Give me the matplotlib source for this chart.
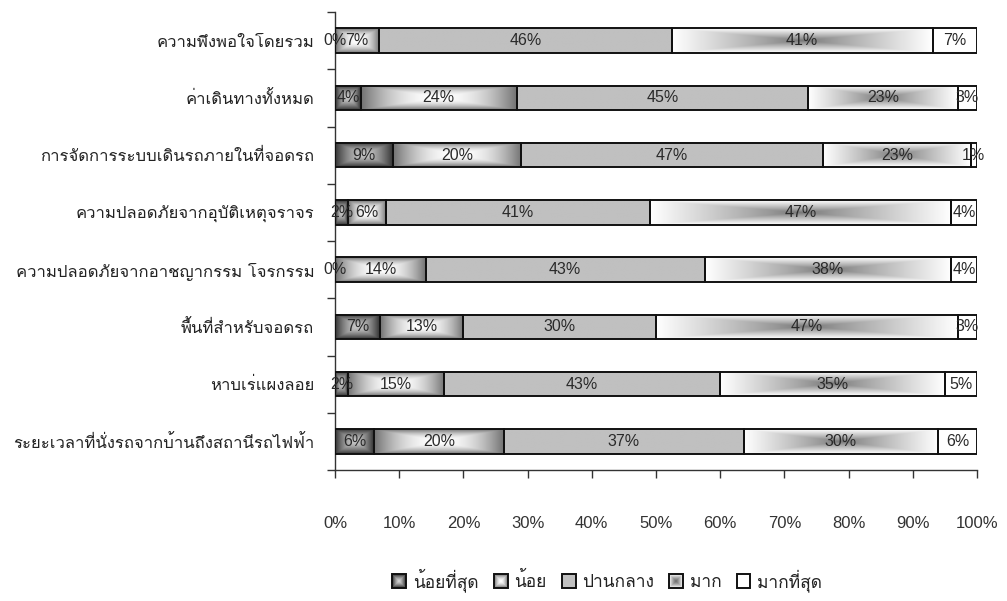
import numpy as np
import matplotlib
matplotlib.use("Agg")
import matplotlib.pyplot as plt
from matplotlib import font_manager
from matplotlib.ft2font import FT2Font
from matplotlib.patches import Rectangle
from matplotlib.image import BboxImage
from matplotlib.transforms import Bbox, TransformedBbox
from matplotlib.legend_handler import HandlerBase

# ---- data -------------------------------------------------------------
categories = [
    "ความพึงพอใจโดยรวม",
    "ค่าเดินทางทั้งหมด",
    "การจัดการระบบเดินรถภายในที่จอดรถ",
    "ความปลอดภัยจากอุบัติเหตุจราจร",
    "ความปลอดภัยจากอาชญากรรม โจรกรรม",
    "พื้นที่สำหรับจอดรถ",
    "หาบเร่แผงลอย",
    "ระยะเวลาที่นั่งรถจากบ้านถึงสถานีรถไฟฟ้า",
]
series_names = ["น้อยที่สุด", "น้อย", "ปานกลาง", "มาก", "มากที่สุด"]
least = [0, 4, 9, 2, 0, 7, 2, 6]
low = [7, 24, 20, 6, 14, 13, 15, 20]
medium = [46, 45, 47, 41, 43, 30, 43, 37]
high = [41, 23, 23, 47, 38, 47, 35, 30]
highest = [7, 3, 1, 4, 4, 3, 5, 6]
x_ticks = [0, 10, 20, 30, 40, 50, 60, 70, 80, 90, 100]


# ---- fonts: pick an installed family that covers Thai ----------------
def thai_family():
    for f in font_manager.fontManager.ttflist:
        try:
            cmap = FT2Font(f.fname).get_charmap()
        except Exception:
            continue
        if 0x0E01 in cmap and 0x0E32 in cmap and 0x0E49 in cmap:
            return f.name
    return None


tf = thai_family()
families = ([tf] if tf else []) + ["Liberation Sans", "DejaVu Sans"]
plt.rcParams["font.family"] = ["Liberation Sans", "DejaVu Sans"]


# ---- gradient fills ----------------------------------------------------
def box_gradient(inner, outer, power, nx=120, ny=40):
    u = np.linspace(-1, 1, nx)
    v = np.linspace(-1, 1, ny)
    U, V = np.meshgrid(u, v)
    d = np.maximum(np.abs(U), np.abs(V)) ** power
    g = inner + (outer - inner) * d
    g = np.clip(g / 255.0, 0, 1)
    return np.dstack([g, g, g])


def solid(val, nx=4, ny=4):
    g = np.full((ny, nx), val / 255.0)
    return np.dstack([g, g, g])


fills = [
    lambda nx: box_gradient(200, 55, 1.5, nx),    # least: dark rim, light core
    lambda nx: box_gradient(255, 115, 2.0, nx),   # low: grey rim, white core
    lambda nx: solid(192),                        # medium: flat grey
    lambda nx: box_gradient(115, 255, 0.85, nx),  # high: grey core, white rim
    lambda nx: solid(255),                        # highest: white
]

W, H, DPI = 1007, 601, 100
fig = plt.figure(figsize=(W / DPI, H / DPI), dpi=DPI)
ax = fig.add_axes([335 / W, 1 - 470 / H, (977 - 335) / W, (470 - 12) / H])

data = np.array([least, low, medium, high, highest], dtype=float)
totals = data.sum(axis=0)
shares = data / totals * 100.0

bar_h = 0.43
for i in range(len(categories)):
    left = 0.0
    for s in range(len(series_names)):
        w = shares[s, i]
        if w > 0:
            nx = max(8, int(w * 6))
            ax.imshow(fills[s](nx), extent=(left, left + w, i + bar_h / 2, i - bar_h / 2),
                      aspect="auto", interpolation="bilinear", zorder=2)
            ax.add_patch(Rectangle((left, i - bar_h / 2), w, bar_h, fill=False,
                                   edgecolor="#111111", linewidth=1.4, zorder=3))
        ax.text(left + w / 2, i, f"{int(data[s, i])}%", ha="center", va="center",
                fontsize=11.5, color="#2a2a2a", zorder=4)
        left += w

ax.set_xlim(0, 100)
ax.set_ylim(len(categories) - 0.5, -0.5)

# axes styling
for side in ["top", "right"]:
    ax.spines[side].set_visible(False)
for side in ["left", "bottom"]:
    ax.spines[side].set_linewidth(1.0)
    ax.spines[side].set_color("#333333")

ax.set_xticks(x_ticks)
ax.set_xticklabels([f"{t}%" for t in x_ticks], fontsize=12, color="#333333")
ax.tick_params(axis="x", direction="out", length=6, width=1.0, color="#333333", pad=27)

ax.set_yticks(np.arange(len(categories) + 1) - 0.5)
ax.set_yticklabels([])
ax.tick_params(axis="y", which="major", direction="out", length=6, width=1.0, color="#333333")
ax.set_yticks(np.arange(len(categories)), minor=True)
ax.set_yticklabels(categories, minor=True, fontsize=12, color="#222222", family=families)
ax.tick_params(axis="y", which="minor", length=0, pad=15)


# legend with gradient swatches
class GradientHandler(HandlerBase):
    def __init__(self, img):
        super().__init__()
        self.img = img

    def create_artists(self, legend, orig_handle, xdescent, ydescent, width, height,
                       fontsize, trans):
        side = min(width, height)
        x0 = -xdescent + (width - side) / 2
        y0 = -ydescent + (height - side) / 2
        bb = TransformedBbox(Bbox.from_bounds(x0, y0, side, side), trans)
        im = BboxImage(bb, interpolation="bilinear")
        im.set_data(self.img)
        rect = Rectangle((x0, y0), side, side, fill=False, edgecolor="#111111",
                         linewidth=1.4, transform=trans)
        return [im, rect]


handles = [Rectangle((0, 0), 1, 1) for _ in series_names]
legend_imgs = [
    box_gradient(215, 50, 1.3, 30, 30),
    box_gradient(255, 110, 1.6, 30, 30),
    solid(192),
    box_gradient(110, 255, 1.2, 30, 30),
    solid(255),
]
hmap = {h: GradientHandler(img) for h, img in zip(handles, legend_imgs)}
fig.legend(handles, series_names, handler_map=hmap, loc="center",
           bbox_to_anchor=(607 / W, 1 - 580 / H), ncol=5, frameon=False,
           prop=font_manager.FontProperties(family=families, size=12.5),
           handlelength=0.85, handleheight=0.85, handletextpad=0.35,
           columnspacing=0.85, labelcolor="#222222")

fig.savefig("out.png", dpi=DPI)
